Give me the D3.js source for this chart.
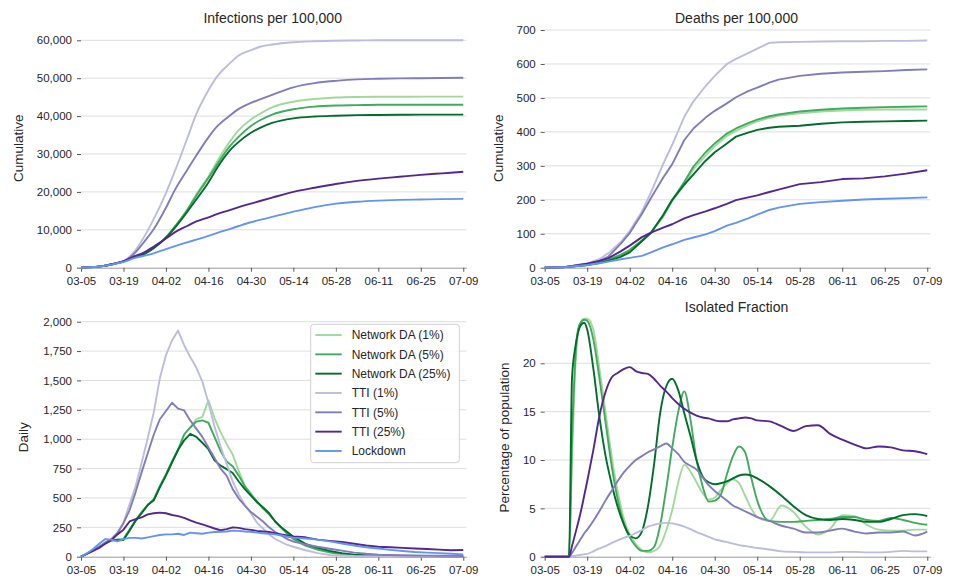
<!DOCTYPE html>
<html><head><meta charset="utf-8">
<script src="https://cdn.jsdelivr.net/npm/d3@7"></script>
<style>
body{margin:0;background:#fff}
text{font-family:"Liberation Sans",Arial,sans-serif;fill:#262626}
</style>
</head><body>
<svg id="c" width="958" height="580"></svg>
<script>
// ---------- DATA ----------
const seriesNames = ["Network DA (1%)","Network DA (5%)","Network DA (25%)","TTI (1%)","TTI (5%)","TTI (25%)","Lockdown"];
const seriesColors = ["#a1d99b","#41ab5d","#006d2c","#bcbddc","#807dba","#54278f","#6495ed"];
const xTickDays = [0,14,28,42,56,70,84,98,112,126];
const xTickLabels = ["03-05","03-19","04-02","04-16","04-30","05-14","05-28","06-11","06-25","07-09"];

// Cumulative infections per 100,000
const dayInf = [0,7,10,14,17,21,24,28,31,35,38,42,45,49,52,56,59,63,70,77,84,91,98,105,112,119,126];
const infNDA1  = [0,400,850,1650,2600,3700,5200,8000,10900,15200,19300,24000,28200,33200,36300,39100,40600,42300,43800,44500,44900,45050,45100,45100,45150,45150,45150];
const infNDA5  = [0,400,850,1650,2600,3700,5200,8000,10900,15200,19000,23700,27400,32000,34600,37400,38900,40400,41800,42500,42800,42900,43000,43000,43000,43000,43000];
const infNDA25 = [0,400,850,1650,2600,3700,5200,7900,10600,14700,18000,22500,26500,30900,33200,35600,36900,38200,39400,39900,40100,40250,40300,40350,40400,40400,40400];
const infTTI1  = [0,400,900,1700,3700,8400,12900,19700,25600,34100,40500,46800,50600,53900,56000,57400,58300,58900,59500,59750,59900,59950,60000,60000,60000,60000,60000];
const infTTI5  = [0,400,900,1700,3300,7000,10200,15800,20600,25800,29600,34400,37400,40100,41900,43500,44400,45600,47600,48700,49300,49700,49850,49950,50000,50050,50100];
const infTTI25 = [0,400,900,1700,2800,4100,5600,7700,9400,11000,12200,13300,14200,15200,16000,16900,17600,18500,20000,21100,22100,22900,23500,24000,24500,24900,25300];
const infLock  = [0,400,800,1500,2400,3200,3800,4900,5700,6700,7400,8400,9200,10200,11000,12000,12600,13400,14800,16000,16900,17400,17700,17900,18000,18100,18150];

// Cumulative deaths per 100,000
const dayDth = [0,7,14,18,21,25,28,32,35,39,42,46,49,53,56,60,63,67,70,74,77,84,91,98,105,112,119,126];
const dthNDA1  = [0,2,8,16,23,38,52,80,103,150,196,245,290,330,358,388,403,420,431,441,447,455,460,463,465,466,466,466];
const dthNDA5  = [0,2,8,16,23,38,52,80,103,152,199,253,298,340,366,395,410,426,436,446,451,460,465,469,471,473,474,475];
const dthNDA25 = [0,2,8,14,20,32,45,78,103,155,200,245,275,315,340,366,386,398,406,412,415,418,424,428,430,431,432,433];
const dthTTI1  = [0,2,13,25,43,75,108,165,222,305,362,445,490,535,565,600,615,632,645,662,664,665,666,667,667,668,668,669];
const dthTTI5  = [0,2,11,20,33,70,102,158,205,265,305,376,410,442,462,484,502,520,530,545,554,565,571,575,577,579,582,584];
const dthTTI25 = [0,2,12,20,28,48,65,90,103,118,128,145,155,166,175,188,199,207,213,223,230,246,252,261,263,269,277,287];
const dthLock  = [0,2,8,13,18,25,29,35,45,60,69,82,89,98,108,124,132,145,156,170,177,188,193,197,201,203,205,207];

// Daily infections
const dayDaily = [0,2,4,6,8,10,12,14,16,18,20,22,24,26,28,30,32,34,36,38,40,42,44,46,48,50,52,54,56,58,60,62,64,66,68,70,74,78,82,86,90,94,98,102,106,110,114,118,122,126];
const dayNDA1  = [0,25,55,85,115,140,145,150,230,310,380,440,490,600,700,810,910,1040,1100,1170,1190,1330,1180,1060,960,870,730,600,540,460,420,370,300,250,200,160,100,60,35,20,12,8,5,4,3,3,2,2,2,2];
const dayNDA5  = [0,25,55,85,115,140,145,150,230,310,380,440,490,600,700,810,910,1040,1100,1150,1160,1140,1020,900,810,770,690,600,530,470,410,360,300,245,195,150,95,60,38,22,14,9,6,5,4,3,3,2,2,2];
const dayNDA25 = [0,25,55,85,115,140,140,142,220,305,370,440,480,590,690,800,910,990,1045,1020,970,915,820,775,745,712,640,575,520,465,420,370,300,250,210,170,110,75,50,30,18,12,8,6,5,4,3,3,2,2];
const dayTTI1  = [0,25,55,85,120,150,205,290,445,600,800,1010,1230,1520,1715,1840,1925,1800,1700,1610,1490,1310,1110,940,790,640,530,440,370,290,240,190,150,125,100,85,55,30,15,10,6,5,4,3,3,2,2,2,2,2];
const dayTTI5  = [0,25,55,85,120,150,200,285,395,550,720,880,1040,1170,1240,1310,1260,1245,1160,1090,1020,930,840,750,690,575,495,435,380,340,300,250,210,180,150,128,105,85,68,52,35,25,18,14,12,10,9,8,7,6];
const dayTTI25 = [0,25,50,75,110,140,190,230,300,320,335,360,370,375,370,355,345,330,310,290,275,258,240,225,235,250,245,235,228,220,215,210,200,190,180,172,165,145,135,125,110,95,85,80,75,70,65,60,55,57];
const dayLock  = [0,30,65,110,150,145,130,150,160,160,155,165,175,185,190,190,195,185,205,200,195,205,210,212,215,222,220,215,212,205,200,195,190,180,170,162,155,145,130,112,95,80,70,58,48,40,35,30,25,20];

// Isolated fraction (% of population)
const dayIso = [0,4,8,9,10,11,12,13,14,16,18,20,22,24,26,28,30,32,34,36,38,40,42,44,46,48,50,52,54,56,58,60,62,64,66,68,70,74,78,82,86,90,94,98,102,106,110,114,118,122,126];
const isoNDA1  = [0,0,0,10,19,23.2,24.3,24.6,24.6,23.5,19.5,15,10.5,6.8,4,2.3,1.3,0.7,0.45,0.6,1.1,2.7,4.8,7.7,9.5,8.8,7.7,6.6,5.9,6.1,6.9,7.6,8.0,7.6,6.3,5.0,4.1,3.7,5.3,4.6,3.1,2.3,2.9,4.3,4.2,3.3,2.8,2.7,2.7,2.8,2.8];
const isoNDA5  = [0,0,0,12,20,23.5,24.3,24.5,24.4,22.5,18.5,14,9.5,6,3.5,2.0,1.1,0.6,0.6,1.0,3.2,7.0,11.3,15.0,17.1,14.2,10.0,7.3,5.7,5.8,6.4,8.5,10.4,11.4,10.8,8.2,5.8,3.7,3.6,3.6,3.7,3.8,3.9,4.1,4.1,3.8,3.7,4.0,3.8,3.5,3.3];
const isoNDA25 = [0,0,0,18.5,21.5,23.2,24.0,24.2,23.5,19.5,14.5,10.5,7.6,5.2,3.4,2.2,1.9,2.6,5.2,9.5,14.8,17.6,18.4,17.2,14.8,12.5,10,8.3,7.7,7.5,7.6,7.8,8.1,8.4,8.5,8.4,8.1,7.3,6.3,5.2,4.3,3.9,3.8,3.9,3.8,3.6,3.6,3.9,4.3,4.4,4.2];
const isoTTI1  = [0,0,0,0.05,0.1,0.15,0.2,0.25,0.3,0.55,0.85,1.1,1.4,1.7,1.95,2.15,2.45,2.75,3.1,3.3,3.45,3.5,3.45,3.3,3.1,2.85,2.55,2.3,2.05,1.8,1.65,1.5,1.35,1.2,1.1,1.0,0.9,0.75,0.55,0.5,0.45,0.45,0.45,0.5,0.5,0.45,0.45,0.5,0.6,0.55,0.55];
const isoTTI5  = [0,0,0,0.4,0.9,1.4,1.9,2.4,2.8,3.7,4.7,5.8,6.8,7.8,8.7,9.4,10.0,10.4,10.8,11.1,11.4,11.7,11.2,10.6,9.8,9.4,9.0,8.2,7.4,6.8,6.3,5.8,5.3,5.0,4.7,4.4,4.1,3.7,3.2,2.9,2.5,2.5,2.7,2.9,2.6,2.4,2.5,2.5,2.6,2.2,2.6];
const isoTTI25 = [0,0,0,1.1,2.3,3.5,4.8,6.3,7.8,11.0,14.5,17.0,18.5,19.0,19.4,19.6,19.2,19.0,18.9,18.4,17.7,17.1,16.4,15.8,15.3,14.9,14.6,14.4,14.3,14.1,14.0,14.0,14.2,14.3,14.4,14.3,14.1,14.0,13.5,13.0,13.5,13.6,12.7,12.1,11.6,11.2,11.4,11.3,11.0,10.9,10.6];

// ---------- DRAW ----------
const svg = d3.select("#c");
const fmtComma = d3.format(",");

const panels = [
  {title:"Infections per 100,000", ylabel:"Cumulative", left:81, right:466.3, top:40.3, bottom:267.7, ymax:60000,
   yticks:d3.range(0,60001,10000), fmt:fmtComma, titleY:22.7, labelX:23.3, labelY:148.3,
   days:dayInf, series:[infNDA1,infNDA5,infNDA25,infTTI1,infTTI5,infTTI25,infLock], curve:d3.curveMonotoneX},
  {title:"Deaths per 100,000", ylabel:"Cumulative", left:544.7, right:930.3, top:30, bottom:267.7, ymax:700,
   yticks:d3.range(0,701,100), fmt:d3.format("d"), titleY:22.7, labelX:503, labelY:148.3,
   days:dayDth, series:[dthNDA1,dthNDA5,dthNDA25,dthTTI1,dthTTI5,dthTTI25,dthLock], curve:d3.curveLinear},
  {title:null, ylabel:"Daily", left:81, right:466.3, top:321.7, bottom:556.7, ymax:2000,
   yticks:d3.range(0,2001,250), fmt:fmtComma, labelX:28, labelY:437.2,
   days:dayDaily, series:[dayNDA1,dayNDA5,dayNDA25,dayTTI1,dayTTI5,dayTTI25,dayLock], curve:d3.curveLinear, legend:true},
  {title:"Isolated Fraction", ylabel:"Percentage of population", left:544.7, right:930.3, top:363.3, bottom:556.7, ymax:20,
   yticks:[0,5,10,15,20], fmt:d3.format("d"), titleY:311.7, labelX:508.5, labelY:437.5,
   days:dayIso, series:[isoNDA1,isoNDA5,isoNDA25,isoTTI1,isoTTI5,isoTTI25,null], curve:d3.curveMonotoneX}
];

panels.forEach(p=>{
  const x = d3.scaleLinear().domain([0,127]).range([p.left,p.right]);
  const y = d3.scaleLinear().domain([0,p.ymax]).range([p.bottom,p.top]);
  const g = svg.append("g");

  g.append("g").selectAll("line").data(p.yticks.filter(v=>v>0)).join("line")
    .attr("x1",p.left).attr("x2",p.right)
    .attr("y1",d=>y(d)).attr("y2",d=>y(d))
    .attr("stroke","#dedede").attr("stroke-width",1);

  const ya = g.append("g").attr("transform",`translate(${p.left},0)`)
    .call(d3.axisLeft(y).tickValues(p.yticks).tickFormat(p.fmt).tickSize(4).tickPadding(5));
  ya.select(".domain").remove();
  ya.selectAll(".tick line").attr("stroke","#555");
  ya.selectAll(".tick text").style("font-size","11.5px").style("font-family","Liberation Sans, Arial, sans-serif").attr("fill","#262626");

  const xa = g.append("g").attr("transform",`translate(0,${p.bottom})`)
    .call(d3.axisBottom(x).tickValues(xTickDays).tickFormat((d,i)=>xTickLabels[i]).tickSizeInner(4).tickSizeOuter(0).tickPadding(5));
  xa.select(".domain").attr("stroke","#999");
  xa.selectAll(".tick line").attr("stroke","#555");
  xa.selectAll(".tick text").style("font-size","11.5px").style("font-family","Liberation Sans, Arial, sans-serif").attr("fill","#262626");

  const line = d3.line().x((d,i)=>x(p.days[i])).y(d=>y(d)).curve(p.curve);
  p.series.forEach((s,k)=>{
    if(!s) return;
    g.append("path").datum(s).attr("d",line)
      .attr("fill","none").attr("stroke",seriesColors[k]).attr("stroke-width",1.9)
      .attr("stroke-linejoin","round");
  });

  if(p.title){
    g.append("text").attr("x",(p.left+p.right)/2 - 1).attr("y",p.titleY)
      .attr("text-anchor","middle").style("font-size","14px").text(p.title);
  }
  g.append("text").attr("transform",`translate(${p.labelX},${p.labelY}) rotate(-90)`)
    .attr("text-anchor","middle").style("font-size","13.5px").text(p.ylabel);

  if(p.legend){
    const lg = g.append("g");
    lg.append("rect").attr("x",310.7).attr("y",324.3).attr("width",148.6).attr("height",138.4)
      .attr("rx",3).attr("fill","#fff").attr("fill-opacity",0.9).attr("stroke","#d0d0d0");
    seriesNames.forEach((n,k)=>{
      const yy = 335 + k*19.33;
      lg.append("line").attr("x1",315.3).attr("x2",341.7).attr("y1",yy).attr("y2",yy)
        .attr("stroke",seriesColors[k]).attr("stroke-width",1.9);
      lg.append("text").attr("x",351.7).attr("y",yy).attr("dy","0.36em")
        .style("font-size","12px").text(n);
    });
  }
});
</script>
</body></html>
